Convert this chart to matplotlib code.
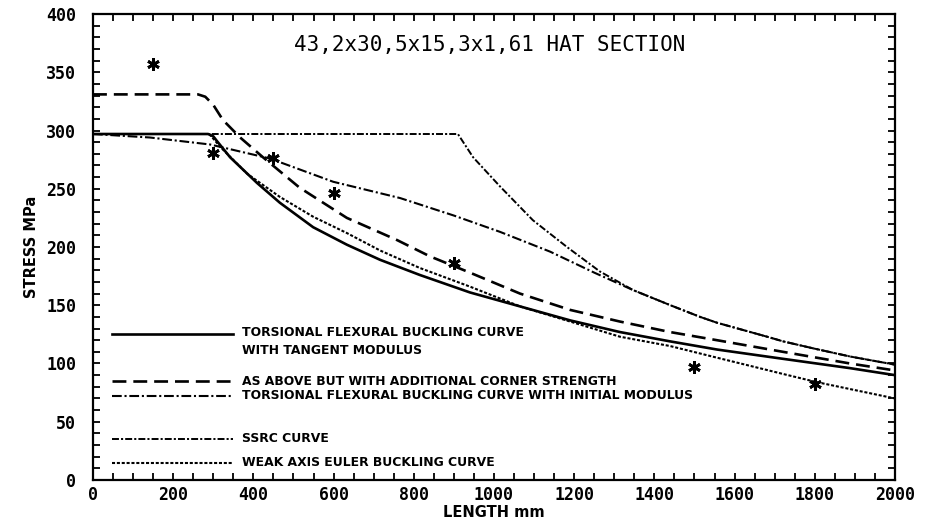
import matplotlib
matplotlib.use("Agg")
import matplotlib.pyplot as plt
from matplotlib.ticker import MultipleLocator
from matplotlib.lines import Line2D

plt.rcParams['lines.scale_dashes'] = False

tangent_x = [0, 287, 300, 309, 342, 409, 466, 549, 633, 716, 815, 940, 1065, 1190, 1314, 1439, 1556, 1721, 1888, 2000]
tangent_y = [297, 297, 295, 291, 277, 255, 238, 217, 202, 189, 176, 161, 149, 137, 127, 119, 112, 104, 96, 90]

corner_x = [0, 262, 280, 300, 324, 367, 424, 515, 633, 758, 840, 940, 1065, 1190, 1314, 1439, 1556, 1721, 1888, 2000]
corner_y = [331, 331, 329, 322, 309, 294, 277, 251, 225, 206, 192, 178, 160, 146, 136, 127, 120, 110, 100, 94]

initial_x = [0, 142, 292, 441, 599, 766, 900, 1015, 1140, 1250, 1347, 1440, 1514, 1556, 1681, 1721, 1796, 1888, 2000]
initial_y = [297, 294, 288, 276, 256, 242, 227, 213, 196, 178, 163, 150, 140, 135, 123, 119, 113, 106, 99]

ssrc_x = [0, 910, 948, 1015, 1097, 1182, 1264, 1347, 1440, 1514, 1556, 1681, 1721, 1796, 1888, 2000]
ssrc_y = [297, 297, 277, 252, 223, 200, 179, 163, 150, 140, 135, 123, 119, 113, 106, 99]

euler_x = [290, 320, 384, 466, 549, 633, 716, 815, 940, 1065, 1190, 1314, 1439, 1556, 1721, 1805, 2000]
euler_y = [297, 285, 263, 243, 226, 212, 197, 182, 166, 149, 136, 123, 115, 105, 91, 84, 70]

test_x = [150, 300, 450, 600, 900, 1500, 1800]
test_y = [357, 281, 276, 246, 186, 97, 82]

title = "43,2x30,5x15,3x1,61 HAT SECTION"
labels = ["TORSIONAL FLEXURAL BUCKLING CURVE\nWITH TANGENT MODULUS",
          "AS ABOVE BUT WITH ADDITIONAL CORNER STRENGTH",
          "TORSIONAL FLEXURAL BUCKLING CURVE WITH INITIAL MODULUS",
          "SSRC CURVE",
          "WEAK AXIS EULER BUCKLING CURVE"]

styles = [
    dict(color='black', lw=1.9, ls='-'),
    dict(color='black', lw=1.9, ls=(0, (10, 5))),
    dict(color='black', lw=1.5, ls=(0, (7, 2, 1.5, 2))),
    dict(color='black', lw=1.4, ls=(0, (5, 1.5, 1.5, 1.5))),
    dict(color='black', lw=1.5, ls=(0, (2.2, 1.3))),
]

fig = plt.figure(figsize=(9.29, 5.27), dpi=100)
ax = fig.add_axes([0.1001, 0.0892, 0.8633, 0.8842])

curves = [(tangent_x, tangent_y), (corner_x, corner_y), (initial_x, initial_y),
          (ssrc_x, ssrc_y), (euler_x, euler_y)]
for (cx, cy), st in zip(curves, styles):
    ax.plot(cx, cy, **st)

ax.plot(test_x, test_y, ls='none', marker=(6, 2, 0), ms=9, mew=2, color='black')

ax.set_xlim(0, 2000)
ax.set_ylim(0, 400)
ax.xaxis.set_major_locator(MultipleLocator(200))
ax.xaxis.set_minor_locator(MultipleLocator(50))
ax.yaxis.set_major_locator(MultipleLocator(50))
ax.yaxis.set_minor_locator(MultipleLocator(10))
ax.tick_params(which='both', direction='in', top=True, right=True, length=5, width=1.3)
ax.tick_params(axis='x', pad=4)
ax.tick_params(axis='y', pad=12)
for sp in ax.spines.values():
    sp.set_linewidth(1.6)

for lab in ax.get_xticklabels() + ax.get_yticklabels():
    lab.set_fontfamily('DejaVu Sans Mono')
    lab.set_fontweight('bold')
    lab.set_fontsize(12)

ax.set_xlabel("LENGTH mm", fontsize=10.5, fontweight='bold', labelpad=1)
ax.set_ylabel("STRESS MPa", fontsize=10.5, fontweight='bold', labelpad=5)

ax.text(0.495, 0.933, title, transform=ax.transAxes, ha='center', va='center',
        family='DejaVu Sans Mono', fontsize=15)

# hand-drawn key
key_rows = [(0.3133, True), (0.2124, False), (0.1803, False), (0.088, False), (0.0365, False)]
for (yl, two_line), st, lab in zip(key_rows, styles, labels):
    ax.add_line(Line2D([0.0237, 0.1746], [yl, yl], transform=ax.transAxes, **st))
    ax.text(0.1858, yl + 0.018 if two_line else yl, lab, transform=ax.transAxes,
            ha='left', va='top' if two_line else 'center', fontsize=8.9, fontweight='bold',
            linespacing=1.55)

fig.savefig("out.png", dpi=100)
